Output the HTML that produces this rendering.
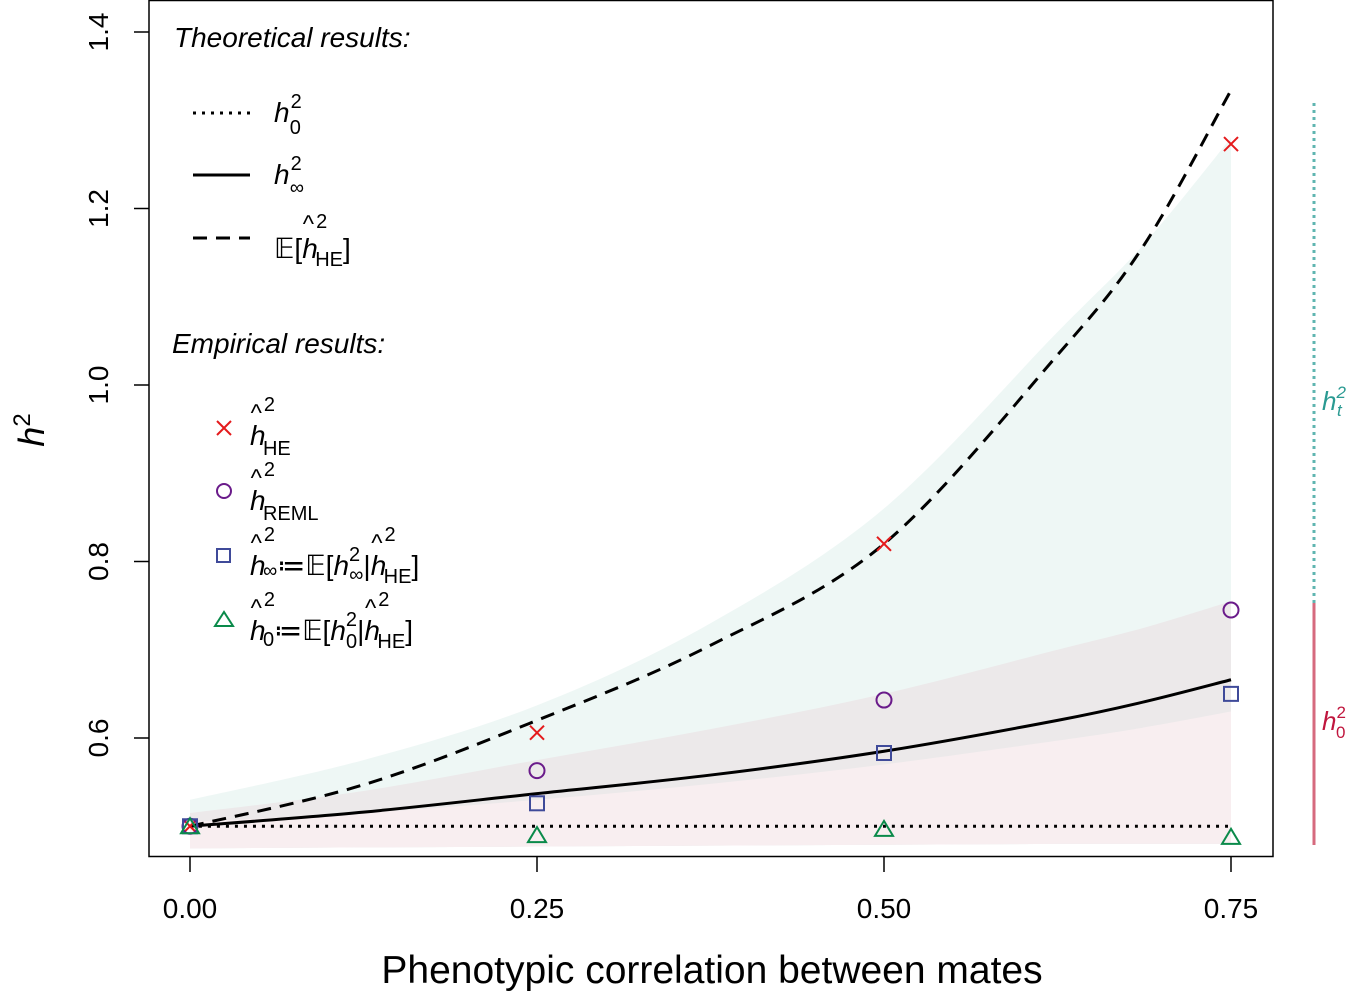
<!DOCTYPE html>
<html><head><meta charset="utf-8"><style>
body{margin:0;background:#fff}
svg{display:block;font-family:"Liberation Sans",sans-serif}
</style></head><body>
<svg width="1350" height="992" viewBox="0 0 1350 992">
<g id="bands"></g>
<g id="lines"></g>
<g id="pts"></g>
<rect x="149" y="0.5" width="1124" height="856" fill="none" stroke="#000" stroke-width="1.5"/>
<g id="axes" font-size="28"></g>
<text x="712" y="983" font-size="39" text-anchor="middle">Phenotypic correlation between mates</text>
<text transform="translate(44,430) rotate(-90)" font-size="36" font-style="italic" text-anchor="middle">h<tspan font-size="24" font-style="normal" dy="-14">2</tspan></text>
<g font-size="28">
<text x="174" y="47" font-style="italic">Theoretical results:</text>
<line x1="193" y1="113" x2="250" y2="113" stroke="#000" stroke-width="3" stroke-dasharray="3,6"/>
<text x="274" y="122" font-style="italic">h<tspan font-size="20" font-style="normal" dx="1" dy="-14">2</tspan><tspan font-size="20" font-style="normal" dx="-12" dy="26">0</tspan></text>
<line x1="193" y1="175" x2="250" y2="175" stroke="#000" stroke-width="3"/>
<text x="274" y="184" font-style="italic">h<tspan font-size="20" font-style="normal" dx="1" dy="-14">2</tspan><tspan font-size="20" font-style="normal" dx="-12" dy="24">∞</tspan></text>
<line x1="193" y1="238" x2="250" y2="238" stroke="#000" stroke-width="3" stroke-dasharray="14,9"/>
<text x="274" y="258">𝔼[<tspan font-style="italic">h</tspan><tspan font-size="24" dy="-26" dx="-15">^</tspan><tspan font-size="20" dy="-4" dx="2">2</tspan><tspan font-size="20" dy="38" dx="-12">HE</tspan><tspan dy="-8">]</tspan></text>
<text x="172" y="353" font-style="italic">Empirical results:</text>
<path d="M217,421 L231,435 M217,435 L231,421" stroke="#e41a1c" stroke-width="2"/>
<circle cx="224" cy="491" r="7" fill="none" stroke="#6a1b8a" stroke-width="2"/>
<rect x="217" y="549" width="13" height="13" fill="none" stroke="#3f4a99" stroke-width="2"/>
<path d="M215,626 L224,612 L233,626 Z" fill="none" stroke="#0a8a4a" stroke-width="2"/>
<text x="250" y="445"><tspan font-style="italic">h</tspan><tspan font-size="24" dy="-24" dx="-15">^</tspan><tspan font-size="20" dy="-10" dx="2">2</tspan><tspan font-size="20" dy="44" dx="-12">HE</tspan></text>
<text x="250" y="510"><tspan font-style="italic">h</tspan><tspan font-size="24" dy="-24" dx="-15">^</tspan><tspan font-size="20" dy="-10" dx="2">2</tspan><tspan font-size="20" dy="44" dx="-12">REML</tspan></text>
<text x="250" y="575"><tspan font-style="italic">h</tspan><tspan font-size="24" dy="-24" dx="-15">^</tspan><tspan font-size="20" dy="-10" dx="2">2</tspan><tspan font-size="20" dy="36" dx="-12">∞</tspan><tspan dy="-2">≔𝔼[</tspan><tspan font-style="italic">h</tspan><tspan font-size="20" dy="-14">2</tspan><tspan font-size="20" dy="20" dx="-11">∞</tspan><tspan dy="-6">|</tspan><tspan font-style="italic">h</tspan><tspan font-size="24" dy="-24" dx="-15">^</tspan><tspan font-size="20" dy="-10" dx="2">2</tspan><tspan font-size="20" dy="42" dx="-12">HE</tspan><tspan dy="-8">]</tspan></text>
<text x="250" y="640"><tspan font-style="italic">h</tspan><tspan font-size="24" dy="-24" dx="-15">^</tspan><tspan font-size="20" dy="-10" dx="2">2</tspan><tspan font-size="20" dy="40" dx="-12">0</tspan><tspan dy="-6">≔𝔼[</tspan><tspan font-style="italic">h</tspan><tspan font-size="20" dy="-14">2</tspan><tspan font-size="20" dy="22" dx="-11">0</tspan><tspan dy="-8">|</tspan><tspan font-style="italic">h</tspan><tspan font-size="24" dy="-24" dx="-15">^</tspan><tspan font-size="20" dy="-10" dx="2">2</tspan><tspan font-size="20" dy="42" dx="-12">HE</tspan><tspan dy="-8">]</tspan></text>
</g>
<line x1="1314" y1="103" x2="1314" y2="705" stroke="#5fb5b0" stroke-width="3" stroke-dasharray="3,4"/>
<line x1="1314" y1="603" x2="1314" y2="845" stroke="#d66a7e" stroke-width="3"/>
<text x="1322" y="410" font-size="26" font-style="italic" fill="#2a9a92">h<tspan font-size="17" dy="-12">2</tspan><tspan font-size="17" dy="18" dx="-9">t</tspan></text>
<text x="1322" y="730" font-size="26" font-style="italic" fill="#c0163e">h<tspan font-size="17" font-style="normal" dy="-12">2</tspan><tspan font-size="17" font-style="normal" dy="20" dx="-10">0</tspan></text>
</svg>
<script>
const xTicks=[0,0.25,0.5,0.75], xTickLabels=["0.00","0.25","0.50","0.75"];
const yTicks=[0.6,0.8,1.0,1.2,1.4], yTickLabels=["0.6","0.8","1.0","1.2","1.4"];
const curveX=[0,0.125,0.25,0.375,0.5,0.625,0.6875,0.75];
const h0Curve=[0.5,0.5,0.5,0.5,0.5,0.5,0.5,0.5];
const hInfCurve=[0.5,0.516,0.537,0.558,0.585,0.62,0.641,0.666];
const hHeCurve=[0.5,0.547,0.62,0.705,0.82,1.034,1.159,1.334];
const tealUpper=[0.53,0.575,0.637,0.73,0.86,1.06,1.16,1.28];
const grayUpper=[0.515,0.54,0.575,0.61,0.65,0.70,0.725,0.755];
const pinkUpper=[0.505,0.515,0.53,0.548,0.57,0.597,0.612,0.63];
const bandLower=[0.475,0.476,0.477,0.478,0.479,0.48,0.48,0.48];
const ptX=[0,0.25,0.5,0.75];
const heVals=[0.5,0.606,0.82,1.273];
const remlVals=[0.5,0.563,0.643,0.745];
const infVals=[0.5,0.526,0.583,0.65];
const h0Vals=[0.5,0.49,0.497,0.488];
const X=v=>190+v*1388, Y=v=>738-(v-0.6)*882.5;
const NS="http://www.w3.org/2000/svg";
function mk(tag,attrs,parent){const e=document.createElementNS(NS,tag);for(const k in attrs)e.setAttribute(k,attrs[k]);document.getElementById(parent).appendChild(e);return e;}
function segs(p){let d='';
for(let i=0;i<p.length-1;i++){const p0=p[i-1]||p[i],p1=p[i],p2=p[i+1],p3=p[i+2]||p2;
d+='C'+(p1[0]+(p2[0]-p0[0])/6)+','+(p1[1]+(p2[1]-p0[1])/6)+' '+(p2[0]-(p3[0]-p1[0])/6)+','+(p2[1]-(p3[1]-p1[1])/6)+' '+p2[0]+','+p2[1];}return d;}
function smooth(ys){const p=curveX.map((x,i)=>[X(x),Y(ys[i])]);return 'M'+p[0][0]+','+p[0][1]+segs(p);}
function band(up,fill){const d=smooth(up)+'L'+X(curveX[curveX.length-1])+','+Y(bandLower[bandLower.length-1])+
curveX.slice().reverse().map((x,j)=>'L'+X(x)+','+Y(bandLower[bandLower.length-1-j])).join('')+'Z';
return mk('path',{d:d,fill:fill},'bands');}
let b=band(tealUpper,'#eef7f5');


b=band(grayUpper,'#ece9ea');


b=band(pinkUpper,'#f8eef0');


let l=mk('path',{d:smooth(h0Curve),fill:'none',stroke:'#000','stroke-width':3,'stroke-dasharray':'3,6'},'lines');


l=mk('path',{d:smooth(hInfCurve),fill:'none',stroke:'#000','stroke-width':3},'lines');


l=mk('path',{d:smooth(hHeCurve),fill:'none',stroke:'#000','stroke-width':3,'stroke-dasharray':'14,9'},'lines');


ptX.forEach((x,i)=>{const cx=X(x);let e;
let y=Y(heVals[i]);e=mk('path',{d:`M${cx-7},${y-7}L${cx+7},${y+7}M${cx-7},${y+7}L${cx+7},${y-7}`,stroke:'#e41a1c','stroke-width':2},'pts');


y=Y(remlVals[i]);e=mk('circle',{cx:cx,cy:y,r:7.5,fill:'none',stroke:'#6a1b8a','stroke-width':2},'pts');


y=Y(infVals[i]);e=mk('rect',{x:cx-7,y:y-7,width:14,height:14,fill:'none',stroke:'#3f4a99','stroke-width':2},'pts');


y=Y(h0Vals[i]);e=mk('path',{d:`M${cx-9},${y+7}L${cx},${y-8}L${cx+9},${y+7}Z`,fill:'none',stroke:'#0a8a4a','stroke-width':2},'pts');

});
xTicks.forEach((v,i)=>{let e=mk('line',{x1:X(v),x2:X(v),y1:857,y2:872,stroke:'#000','stroke-width':1.5},'axes');


e=mk('text',{x:X(v),y:918,'text-anchor':'middle'},'axes');e.textContent=xTickLabels[i];

});
yTicks.forEach((v,i)=>{let e=mk('line',{x1:134,x2:149,y1:Y(v),y2:Y(v),stroke:'#000','stroke-width':1.5},'axes');


e=mk('text',{transform:`translate(108,${Y(v)}) rotate(-90)`,'text-anchor':'middle'},'axes');e.textContent=yTickLabels[i];

});
</script>
</body></html>
